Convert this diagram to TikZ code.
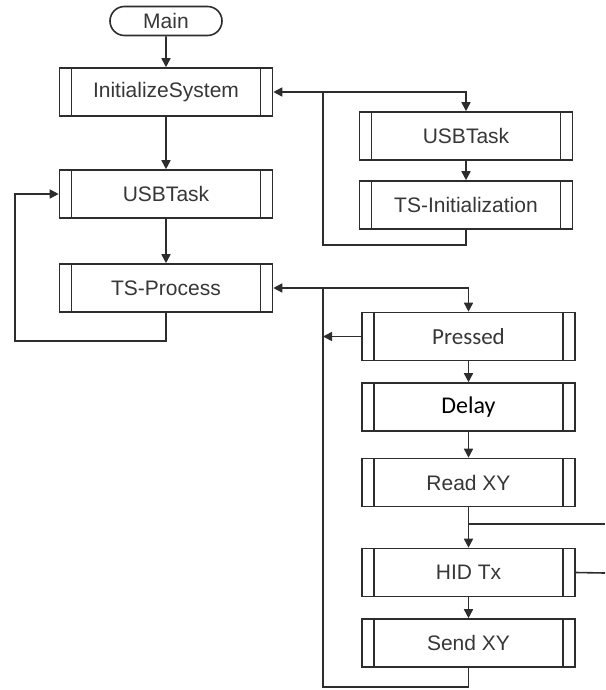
\documentclass[tikz,border=0pt]{standalone}
\usepackage{fontspec}
\setmainfont{Liberation Sans}
\newfontfamily\humanfont{Carlito}
\usepackage{xcolor}
\usepackage{tikz}
\definecolor{flowline}{RGB}{45, 45, 45}
\definecolor{flowtext}{RGB}{55, 55, 55}
\usetikzlibrary{arrows.meta,positioning,shapes.misc,calc}

\tikzset{
    proc/.style={rectangle, draw=flowline, fill=white, line width=0.8pt,
        minimum width=106.5pt, minimum height=24pt, inner sep=0pt,
        font=\fontsize{10.5}{12}\selectfont, text=flowtext,
        path picture={
            \draw[flowline, line width=0.8pt]
                ([xshift=6pt]path picture bounding box.north west) -- ([xshift=6pt]path picture bounding box.south west)
                ([xshift=-6pt]path picture bounding box.north east) -- ([xshift=-6pt]path picture bounding box.south east);
        }},
    term/.style={rounded rectangle, draw=flowline, fill=white, line width=0.8pt,
        minimum width=56pt, minimum height=14.5pt, inner sep=0pt,
        font=\fontsize{10.5}{12}\selectfont, text=flowtext},
    flow/.style={draw=flowline, line width=0.8pt, -{Triangle[length=4.5pt,width=4.5pt]}},
    wire/.style={draw=flowline, line width=0.8pt}
}

\begin{document}
\begin{tikzpicture}[x=0.5pt, y=-0.5pt]
    \useasboundingbox (0,0) rectangle (605,690);

    % Main loop
    \node[term] (main) at (166, 21) {Main};
    \node[proc] (init) at (166, 92) {InitializeSystem};
    \node[proc] (usbmain) at (166, 194) {USBTask};
    \node[proc] (tsproc) at (166, 288) {TS-Process};

    \draw[flow] (main) -- (init);
    \draw[flow] (init) -- (usbmain);
    \draw[flow] (usbmain) -- (tsproc);
    \coordinate (loopbot) at (15, 341);
    \draw[flow] (tsproc.south) |- (loopbot) |- (usbmain.west);

    % Initialization branch
    \node[proc] (usbinit) at (466, 136) {USBTask};
    \node[proc] (tsinit) at (466, 205) {TS-Initialization};

    \coordinate (forkinit) at (323, 92);
    \coordinate (retinit) at (323, 245);
    \draw[flow] (forkinit) -| (usbinit.north);
    \draw[flow] (usbinit) -- (tsinit);
    \draw[flow] (tsinit.south) |- (retinit) |- (init.east);

    % Touch processing branch
    \node[proc] (pressed) at (468.5, 336.5) {\humanfont\fontsize{11.5}{13}\selectfont Pressed};
    \node[proc] (delay) at (468.5, 407) {\humanfont\fontsize{12}{14}\selectfont\color{black}Delay};
    \node[proc] (readxy) at (468.5, 482.5) {Read XY};
    \node[proc] (hidtx) at (468.5, 572.5) {HID Tx};
    \node[proc] (sendxy) at (468.5, 643) {Send XY};

    \coordinate (forkts) at (323, 288);
    \coordinate (retts) at (323, 687);
    \draw[flow] (forkts) -| (pressed.north);
    \draw[flow] (pressed.west) -- (pressed.west -| retts);
    \draw[flow] (pressed) -- (delay);
    \draw[flow] (delay) -- (readxy);
    \draw[flow] (readxy) -- (hidtx);
    \draw[flow] (hidtx) -- (sendxy);
    \draw[flow] (sendxy.south) |- (retts) |- (tsproc.east);

    % HID Tx retry path
    \coordinate (retryin) at (605, 524);
    \coordinate (retryout) at (605, 573);
    \draw[wire] (retryin) -- (readxy.south |- retryin);
    \draw[wire] (hidtx.east) -- (retryout);
\end{tikzpicture}
\end{document}
